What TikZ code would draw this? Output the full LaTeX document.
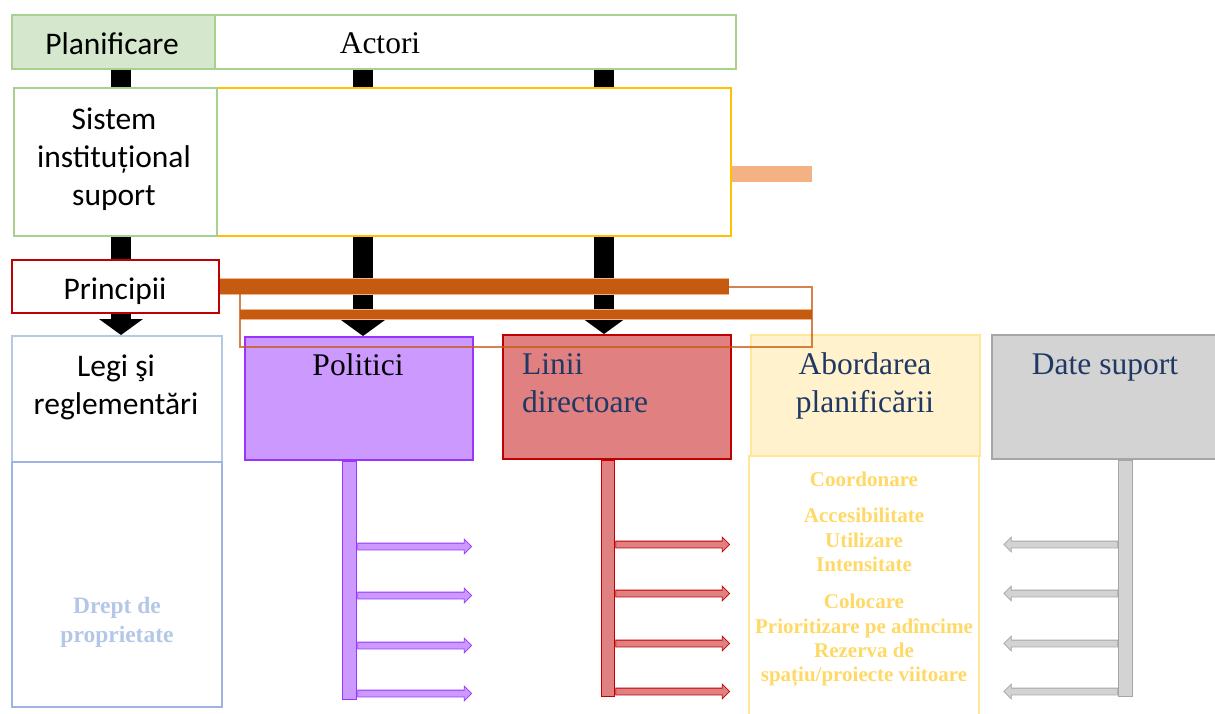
\documentclass[tikz,border=0pt]{standalone}
\usepackage{fontspec}
\setmainfont{Liberation Serif}
\newfontfamily\calibrifont{Carlito}
\usepackage{tikz}
\usetikzlibrary{arrows.meta}
\usetikzlibrary{shapes.arrows}
\usetikzlibrary{calc}
\definecolor{greenline}{RGB}{169, 209, 142}
\definecolor{greenfill}{RGB}{213, 232, 205}
\definecolor{gold}{RGB}{255, 192, 0}
\definecolor{peach}{RGB}{244, 177, 131}
\definecolor{rust}{RGB}{197, 90, 17}
\definecolor{darkred}{RGB}{192, 0, 0}
\definecolor{paleblue}{RGB}{180, 199, 231}
\definecolor{blueline}{RGB}{155, 181, 226}
\definecolor{lavender}{RGB}{204, 153, 255}
\definecolor{purpleline}{RGB}{153, 51, 255}
\definecolor{rose}{RGB}{224, 128, 128}
\definecolor{cream}{RGB}{255, 242, 204}
\definecolor{lightgold}{RGB}{255, 230, 153}
\definecolor{mustard}{RGB}{255, 217, 102}
\definecolor{greyfill}{RGB}{211, 211, 211}
\definecolor{greyline}{RGB}{166, 166, 166}
\definecolor{navy}{RGB}{31, 56, 100}

\begin{document}
\begin{tikzpicture}[x=1pt, y=-1pt,
    box/.style={draw, rectangle, inner sep=0pt, line width=1.5pt, anchor=north west},
    ctext/.style={font=\calibrifont\fontsize{31.5}{38}\selectfont, inner sep=0pt, anchor=base},
    ttext/.style={font=\fontsize{31.5}{36}\selectfont, inner sep=0pt, anchor=base},
    btext/.style={font=\bfseries\fontsize{21}{25}\selectfont, inner sep=0pt, anchor=base, text=mustard},
    blk/.style={line width=20pt, black},
    blkarrow/.style={blk, -{Triangle[width=44pt, length=16pt, line width=0pt]}},
    obar/.style={draw=peach, line width=1pt, double=rust},
    vbar/.style={box, line width=1pt, anchor=north, minimum width=14pt, minimum height=236pt},
    harrow/.style={single arrow, draw, line width=0.8pt, inner sep=3pt, minimum height=114pt,
                   minimum width=14pt, single arrow head extend=4pt, anchor=tail}]

    \useasboundingbox (0,0) rectangle (1215,713);

    % top rows
    \node[box, draw=greenline, fill=greenfill, minimum width=203pt, minimum height=54pt] (plan) at (11,14) {};
    \node[box, draw=greenline, fill=white, minimum width=521pt, minimum height=54pt] (act) at (214,14) {};
    \node[ctext] (plantxt) at (112,54) {Planificare};
    \node[ttext] (acttxt) at (380,53) {Actori};

    \node[box, draw=gold, fill=white, minimum width=514pt, minimum height=148pt] (yel) at (216,87) {};
    \node[box, draw=greenline, fill=white, minimum width=203pt, minimum height=148pt] (sis) at (13,87) {};
    \node[ctext] (sis1) at (114,129) {Sistem};
    \node[ctext] (sis2) at (114,167) {instituțional};
    \node[ctext] (sis3) at (114,205) {suport};

    \node[box, draw=darkred, fill=white, minimum width=207pt, minimum height=53pt] (pri) at (11,259) {};
    \node[ctext] (pritxt) at (115,299) {Principii};

    % bottom row
    \node[box, draw=paleblue, fill=white, minimum width=210pt, minimum height=126pt] (legi) at (11,335) {};
    \node[box, draw=blueline, fill=white, minimum width=210pt, minimum height=245pt] (drept) at (11,461) {};
    \node[box, draw=purpleline, fill=lavender, minimum width=228pt, minimum height=123pt] (pol) at (244,336) {};
    \node[box, draw=darkred, fill=rose, minimum width=228pt, minimum height=124pt] (lin) at (502,334) {};
    \node[box, draw=lightgold, fill=cream, minimum width=229pt, minimum height=121pt] (abo) at (750,334) {};
    \node[box, draw=lightgold, fill=white, minimum width=230pt, minimum height=262pt] (abl) at (748,455) {};
    \node[box, draw=greyline, fill=greyfill, minimum width=226pt, minimum height=124pt] (dat) at (991,334) {};

    \node[ctext] (legi1) at (116,376) {Legi şi};
    \node[ctext] (legi2) at (116,414) {reglementări};
    \node[ttext, font=\bfseries\fontsize{23.5}{28}\selectfont, text=paleblue] (drept1) at (117,613) {Drept de};
    \node[ttext, font=\bfseries\fontsize{23.5}{28}\selectfont, text=paleblue] (drept2) at (117,642) {proprietate};
    \node[ttext] (poltxt) at (358,375) {Politici};
    \node[ttext, text=navy, anchor=base west] (lin1) at (522,374) {Linii};
    \node[ttext, text=navy, anchor=base west] (lin2) at (522,412) {directoare};
    \node[ttext, text=navy] (abo1) at (865,374) {Abordarea};
    \node[ttext, text=navy] (abo2) at (865,412) {planificării};
    \node[ttext, text=navy] (dattxt) at (1105,374) {Date suport};

    \foreach \yy/\txt [count=\i] in {486/Coordonare, 522/Accesibilitate, 547/Utilizare, 571/Intensitate,
                                      608/Colocare, 633/Prioritizare pe adîncime, 657/Rezerva de,
                                      681/{spațiu/proiecte viitoare}}
        \node[btext] (ab\i) at (864,\yy) {\txt};

    % black connectors
    \coordinate (c1) at (121,0);
    \coordinate (c2) at (363,0);
    \coordinate (c3) at (604,0);
    \draw[blk] (plan.south -| c1) -- (sis.north -| c1);
    \draw[blk] (act.south -| c2) -- (yel.north -| c2);
    \draw[blk] (act.south -| c3) -- (yel.north -| c3);
    \draw[blk] (sis.south -| c1) -- (pri.north -| c1);
    \draw[blkarrow] (pri.south -| c1) -- (legi.north -| c1);
    \draw[blkarrow] (yel.south -| c2) -- (pol.north -| c2);
    \draw[blkarrow] (yel.south -| c3) -- (lin.north -| c3);

    % orange bars
    \coordinate (b1e) at (729,287);
    \coordinate (b2w) at (240,314);
    \coordinate (b2e) at (812,314);
    \draw[obar, double distance=15pt] (pri.east) -- (pri.east -| b1e);
    \draw[obar, double distance=9pt] (b2w) -- (b2e);
    \draw[rust, line width=2pt, opacity=0.75] (b1e) -- (812,287) -- (812,347) -- (240,347) -- (240,292);
    \draw[peach, line width=16pt] ($(yel.east)+(0,12)$) -- ++(80,0);

    % side bars and arrows
    \node[vbar, draw=purpleline, fill=lavender, minimum height=238pt] (polbar) at ([xshift=-9pt]pol.south) {};
    \node[vbar, draw=darkred, fill=rose, minimum width=13pt] (linbar) at ([xshift=-8.5pt]lin.south) {};
    \node[vbar, draw=greyline, fill=greyfill] (datbar) at ([xshift=21pt]dat.south) {};

    \foreach \dy [count=\i] in {86,135,185,233} {
        \node[harrow, draw=purpleline, fill=lavender] (parr\i) at ($(polbar.north east)+(0,\dy)$) {};
        \node[harrow, draw=darkred, fill=rose] (rarr\i) at ($(linbar.north east)+(0,\dy-1)$) {};
        \node[harrow, draw=greyline, fill=greyfill, shape border rotate=180] (garr\i) at ($(datbar.north west)+(0,\dy-1)$) {};
    }

\end{tikzpicture}
\end{document}
